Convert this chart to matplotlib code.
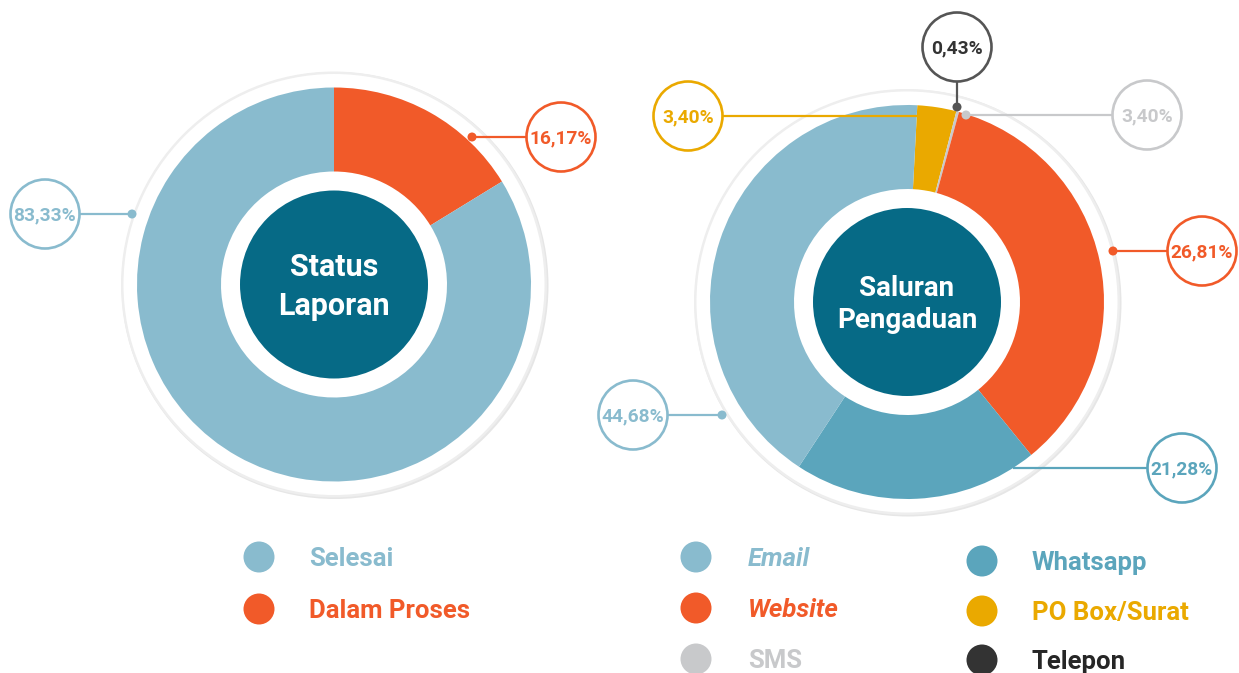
import matplotlib
matplotlib.use("Agg")
import matplotlib.pyplot as plt
from matplotlib.patches import Circle

plt.rcParams['font.family'] = ['Roboto', 'DejaVu Sans']

W, H = 1239, 673

# ---- data ----
status_names = ['Dalam Proses', 'Selesai']
status_share = [16.17, 83.33]
status_labels = ['16,17%', '83,33%']

saluran_names = ['PO Box/Surat', 'SMS', 'Telepon', 'Website', 'Whatsapp', 'Email']
# slice sizes as drawn in the picture (the printed labels differ)
saluran_share = [3.2, 0.22, 0.0, 34.9, 20.1, 41.6]
saluran_labels = ['3,40%', '3,40%', '0,43%', '26,81%', '21,28%', '44,68%']

# ---- colours ----
c_light = '#89bbce'
c_orange = '#f15a29'
c_teal = '#5ba5bc'
c_yellow = '#eaa900'
c_gray = '#c8c9cb'
c_dark = '#333333'
c_center = '#066a86'

status_colors = [c_orange, c_light]
saluran_colors = [c_yellow, c_gray, c_dark, c_orange, c_teal, c_light]


def px(pt):
    return pt * 100 / 72.0


def ctext(ax, x, y, s, size, color, style='normal', ha='center'):
    # y is the visual middle of the capitals (pixel coords, top-down)
    ax.text(x, H - y - 0.36 * px(size), s, fontsize=size, color=color,
            fontweight='bold', style=style, ha=ha, va='baseline', zorder=10)


fig = plt.figure(figsize=(W / 100, H / 100), dpi=100)
ax = fig.add_axes([0, 0, 1, 1])


def donut(cx, cy, values, colors, start, title, tsize, gap):
    c = (cx, H - cy)
    # outer halo
    ax.add_patch(Circle((c[0] + 1, c[1] - 1), 213.5, fc='#e6e6e6', ec='none', zorder=0))
    ax.add_patch(Circle(c, 213, fc='#eeeeee', ec='none', zorder=0))
    ax.add_patch(Circle(c, 210.5, fc='white', ec='none', zorder=0))
    ax.pie(values, colors=colors, startangle=start, counterclock=False,
           radius=197, center=c, wedgeprops=dict(width=84, linewidth=0))
    ax.add_patch(Circle(c, 94, fc=c_center, ec='none', zorder=5))
    lines = title.split('\n')
    ctext(ax, cx, cy - gap, lines[0], tsize, 'white')
    ctext(ax, cx, cy + gap, lines[1], tsize, 'white')


donut(334, 284.5, status_share, status_colors, 90, 'Status\nLaporan', 22, 19.5)
donut(907, 302, saluran_share, saluran_colors, 87, 'Saluran\nPengaduan', 20, 15.5)


def bubble(bx, by, text, color, start, dot=True, edge=None):
    edge = edge or color
    # connector from start point to bubble edge
    sx, sy = start
    if sy == by:
        ex = bx - 35 if sx < bx else bx + 35
        ax.plot([sx, ex], [H - sy, H - by], color=edge, lw=1.6, zorder=8, solid_capstyle='butt')
    else:
        ax.plot([sx, bx], [H - sy, H - by - 35], color=edge, lw=1.6, zorder=8, solid_capstyle='butt')
    if dot:
        ax.add_patch(Circle((sx, H - sy), 4.5, fc=edge, ec='none', zorder=9))
    ax.add_patch(Circle((bx, H - by), 34.5, fc='white', ec=edge, lw=1.9, zorder=9))
    ctext(ax, bx, by, text, 13.8, color)


# Status Laporan labels
bubble(561, 137, status_labels[0], c_orange, (472, 137))
bubble(45, 214, status_labels[1], c_light, (132, 214))

# Saluran Pengaduan labels
bubble(688, 116, saluran_labels[0], c_yellow, (917, 116), dot=False)
bubble(1147, 115, saluran_labels[1], c_gray, (966, 115))
bubble(957, 47, saluran_labels[2], c_dark, (957, 107), edge='#555555')
bubble(1202, 251, saluran_labels[3], c_orange, (1113, 251))
bubble(1182, 468, saluran_labels[4], c_teal, (1013, 468), dot=False)
bubble(633, 415, saluran_labels[5], c_light, (722, 415))

# ---- legends ----
leg_size = 18.5
legend_items = [
    (259, 557, 309, 'Selesai', c_light, c_light, 'normal'),
    (259, 609, 309, 'Dalam Proses', c_orange, c_orange, 'normal'),
    (696, 557, 748, 'Email', c_light, c_light, 'italic'),
    (696, 608, 748, 'Website', c_orange, c_orange, 'italic'),
    (696, 659, 748, 'SMS', c_gray, c_gray, 'normal'),
    (982, 561, 1032, 'Whatsapp', c_teal, c_teal, 'normal'),
    (982, 611, 1032, 'PO Box/Surat', c_yellow, c_yellow, 'normal'),
    (982, 660, 1032, 'Telepon', c_dark, '#262626', 'normal'),
]
for dx, dy, tx, name, dc, tc, st in legend_items:
    ax.add_patch(Circle((dx, H - dy), 15.5, fc=dc, ec='none', zorder=3))
    ctext(ax, tx, dy, name, leg_size, tc, style=st, ha='left')

ax.set_xlim(0, W)
ax.set_ylim(0, H)
ax.set_aspect('equal')
ax.axis('off')

fig.savefig('out.png', dpi=100, facecolor='white')
